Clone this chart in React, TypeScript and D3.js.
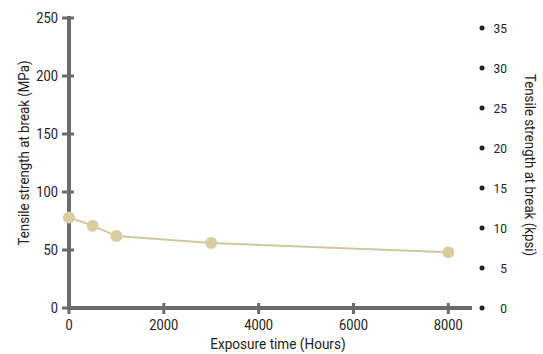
import React from "react";
import * as d3 from "d3";

const hours = [0, 500, 1000, 3000, 8000];
const strengthMPa = [78, 71, 62, 56, 48];
const xTicks = [0, 2000, 4000, 6000, 8000];
const yTicks = [0, 50, 100, 150, 200, 250];
const kpsiTicks = [0, 5, 10, 15, 20, 25, 30, 35];
const MPA_PER_KPSI = 6.894757;

const W = 543, H = 354;
const left = 69, right = 472, top = 18, bottom = 308;
const FONT = "Roboto, 'Noto Sans', sans-serif";
const AX = "#6b6b6d";
const LINE = "#d0c89d";
const MARK = "#d6cea2";

export default function App() {
  const x = d3.scaleLinear().domain([0, 8500]).range([left, right]);
  const y = d3.scaleLinear().domain([0, 250]).range([bottom, top]);
  const y2 = d3.scaleLinear().domain([0, 250 / MPA_PER_KPSI]).range([bottom, top]);
  const pts = hours.map((h, i) => [x(h), y(strengthMPa[i])] as [number, number]);
  const line = d3.line()(pts) || "";
  return (
    <svg width={W} height={H} style={{ position: "absolute", left: 0, top: 0, background: "#fff" }} fontFamily={FONT}>
      {/* left axis */}
      <line x1={left} x2={left} y1={top - 2} y2={bottom + 2} stroke={AX} strokeWidth={4} />
      {yTicks.map((t) => (
        <g key={"y" + t}>
          <line x1={left - 7} x2={left + 5} y1={y(t)} y2={y(t)} stroke={AX} strokeWidth={3} />
          <text x={left - 11} y={y(t)} dy="0.35em" textAnchor="end" fontSize={14} fill="#222" transform={`translate(${left - 11},0) scale(0.92,1) translate(${-(left - 11)},0)`}>{t}</text>
        </g>
      ))}
      {/* bottom axis */}
      <line x1={left - 2} x2={right} y1={bottom} y2={bottom} stroke={AX} strokeWidth={4} />
      {xTicks.map((t) => (
        <g key={"x" + t}>
          <line x1={x(t)} x2={x(t)} y1={bottom - 5} y2={bottom + 6} stroke={AX} strokeWidth={3} />
          <text x={x(t)} y={bottom + 22} textAnchor="middle" fontSize={14} fill="#222" transform={`translate(${x(t)},0) scale(0.92,1) translate(${-x(t)},0)`}>{t}</text>
        </g>
      ))}
      {/* right axis */}
      {kpsiTicks.map((t) => (
        <g key={"k" + t}>
          <circle cx={482} cy={y2(t)} r={2.5} fill="#222" />
          <text x={507} y={y2(t)} dy="0.35em" textAnchor="end" fontSize={13} fill="#222" transform={`translate(507,0) scale(0.92,1) translate(-507,0)`}>{t}</text>
        </g>
      ))}
      {/* series */}
      <path d={line} fill="none" stroke={LINE} strokeWidth={2} />
      {pts.map((p, i) => (
        <circle key={i} cx={p[0]} cy={p[1]} r={6} fill={MARK} />
      ))}
      {/* titles */}
      <text transform="translate(278,349) scale(0.97,1)" textAnchor="middle" fontSize={14} fill="#222">Exposure time (Hours)</text>
      <text transform="translate(29,153) rotate(-90) scale(0.95,1)" textAnchor="middle" fontSize={14} fill="#222">Tensile strength at break (MPa)</text>
      <text transform="translate(525,165) rotate(90) scale(0.95,1)" textAnchor="middle" fontSize={14} fill="#222">Tensile strength at break (kpsi)</text>
    </svg>
  );
}
